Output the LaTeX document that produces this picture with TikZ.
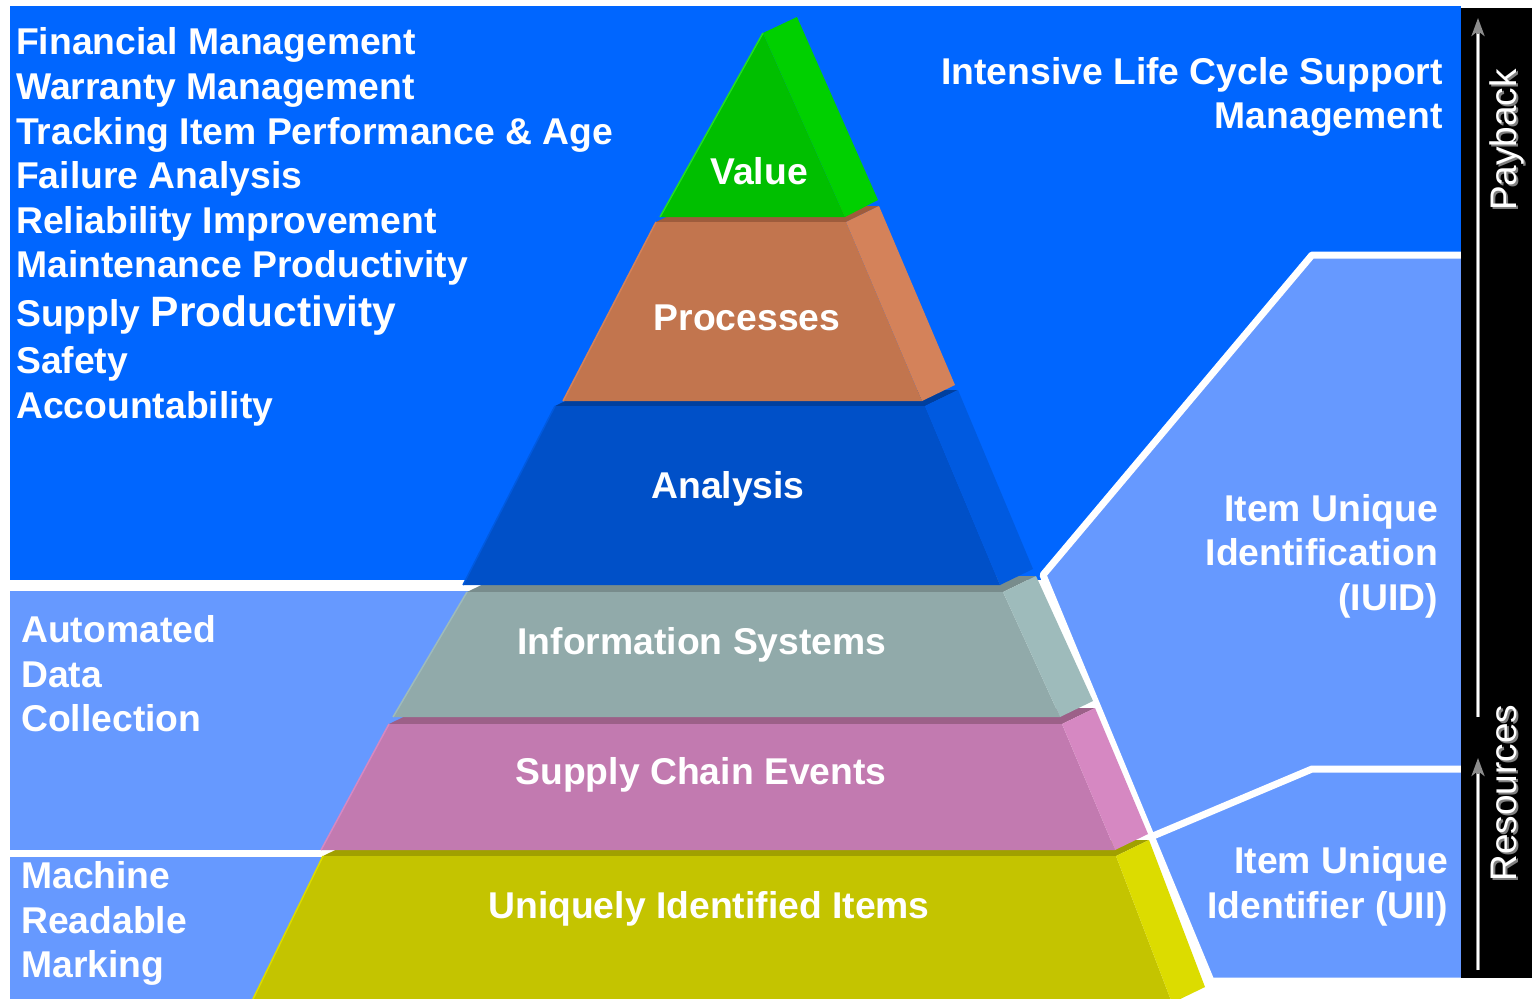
\documentclass[tikz,border=0pt]{standalone}
\usepackage{fontspec}
\setmainfont{Liberation Sans}
\usetikzlibrary{arrows.meta}
\definecolor{dblue}{HTML}{0066FF}
\definecolor{lblue}{HTML}{6699FF}
\definecolor{valFront}{HTML}{00BF00}
\definecolor{valSide}{HTML}{00D000}
\definecolor{valEdge}{HTML}{22DD22}
\definecolor{proFront}{HTML}{C2754E}
\definecolor{proSide}{HTML}{D4825A}
\definecolor{proTop}{HTML}{9E5C3C}
\definecolor{anaFront}{HTML}{0050C8}
\definecolor{anaSide}{HTML}{005AE0}
\definecolor{anaTop}{HTML}{003F9E}
\definecolor{infFront}{HTML}{91AAAA}
\definecolor{infSide}{HTML}{9EBBBB}
\definecolor{infTop}{HTML}{788C8C}
\definecolor{supFront}{HTML}{C27AB0}
\definecolor{supSide}{HTML}{D688C2}
\definecolor{supTop}{HTML}{9C6088}
\definecolor{uniFront}{HTML}{C4C400}
\definecolor{uniSide}{HTML}{DCDC00}
\definecolor{uniTop}{HTML}{A0A000}
\definecolor{arrowgray}{HTML}{8C8C8C}
\begin{document}
\begin{tikzpicture}[x=1pt,y=-1pt,
  lbl/.style={text=white,font=\fontsize{37.3}{44}\selectfont\bfseries,inner sep=0pt},
  rot/.style={font=\fontsize{37}{44}\selectfont,inner sep=0pt,rotate=90,anchor=base},
  edgeline/.style={line width=1.5},
  barrow/.style={draw=arrowgray, line width=3.5, -{Stealth[length=18pt,width=13pt,inset=5pt]}}]
\useasboundingbox (0,0) rectangle (1532,999);
\fill[white] (0,0) rectangle (1532,999);
% background regions
\fill[dblue] (10,6) rectangle (1461,580);
\fill[lblue] (10,591) rectangle (700,850);
\fill[lblue] (10,857) rectangle (700,999);
\filldraw[fill=lblue, draw=white, line width=7, line join=round]
  (1312,255) -- (1470,255) -- (1470,981) -- (1211,981) -- (1043,575) -- cycle;
\draw[white, line width=7, line join=round] (1153,836) -- (1312,769) -- (1470,769);
\fill[black] (1461,8) rectangle (1532,978);

% pyramid: bottom layer first
% Uniquely Identified Items
\fill[uniTop] (323,856) -- (1116,856) -- (1149,840) -- (356,840) -- cycle;
\fill[uniFront] (323,856) -- (1116,856) -- (1172,1003) -- (251,1003) -- cycle;
\fill[uniSide] (1116,856) -- (1149,840) -- (1205,987) -- (1172,1003) -- cycle;
\draw[uniSide, edgeline] (323,856) -- (251,1003);
% Supply Chain Events
\fill[supTop] (389,724) -- (1062,724) -- (1095,708) -- (422,708) -- cycle;
\fill[supFront] (389,724) -- (1062,724) -- (1115,850) -- (321,850) -- cycle;
\fill[supSide] (1062,724) -- (1095,708) -- (1148,834) -- (1115,850) -- cycle;
\draw[supSide, edgeline] (389,724) -- (321,850);
% Information Systems
\fill[infTop] (467,592) -- (1003,592) -- (1036,576) -- (500,576) -- cycle;
\fill[infFront] (467,592) -- (1003,592) -- (1060,717) -- (393,717) -- cycle;
\fill[infSide] (1003,592) -- (1036,576) -- (1093,701) -- (1060,717) -- cycle;
\draw[infSide, edgeline] (467,592) -- (393,717);
% Analysis
\fill[anaTop] (555,406) -- (925,406) -- (958,390) -- (588,390) -- cycle;
\fill[anaFront] (555,406) -- (925,406) -- (1000,585) -- (463,585) -- cycle;
\fill[anaSide] (925,406) -- (958,390) -- (1033,569) -- (1000,585) -- cycle;
\draw[anaSide, edgeline] (555,406) -- (463,585);
% Processes
\fill[proTop] (656,222) -- (846,222) -- (879,206) -- (689,206) -- cycle;
\fill[proFront] (656,222) -- (846,222) -- (922,401) -- (563,401) -- cycle;
\fill[proSide] (846,222) -- (879,206) -- (955,385) -- (922,401) -- cycle;
\draw[proSide, edgeline] (656,222) -- (563,401);
% Value
\fill[valFront] (763,33) -- (845,217) -- (660,217) -- cycle;
\fill[valSide] (763,33) -- (797,17) -- (878,200) -- (845,217) -- cycle;
\draw[valEdge, edgeline] (763,33) -- (660,217);

% pyramid labels
\node[lbl, anchor=base] (lval) at (759,184) {Value};
\node[lbl, anchor=base] (lpro) at (747,330) {Processes};
\node[lbl, anchor=base] (lana) at (728,498) {Analysis};
\node[lbl, anchor=base] (linf) at (702,654) {Information Systems};
\node[lbl, anchor=base] (lsup) at (701,784) {Supply Chain Events};
\node[lbl, anchor=base] (luni) at (709,918) {Uniquely Identified Items};

% left list
\node[lbl, anchor=base west] (t1) at (16,54) {Financial Management};
\node[lbl, anchor=base west] (t2) at (16,99) {Warranty Management};
\node[lbl, anchor=base west] (t3) at (16,144) {Tracking Item Performance \& Age};
\node[lbl, anchor=base west] (t4) at (16,188) {Failure Analysis};
\node[lbl, anchor=base west] (t5) at (16,233) {Reliability Improvement};
\node[lbl, anchor=base west] (t6) at (16,277) {Maintenance Productivity};
\node[lbl, anchor=base west] (t7) at (16,326) {Supply {\fontsize{42.5}{50}\selectfont Productivity}};
\node[lbl, anchor=base west] (t8) at (16,373) {Safety};
\node[lbl, anchor=base west] (t9) at (16,418) {Accountability};

% left panels
\node[lbl, anchor=base west] (a1) at (21,642) {Automated};
\node[lbl, anchor=base west] (a2) at (21,687) {Data};
\node[lbl, anchor=base west] (a3) at (21,731) {Collection};
\node[lbl, anchor=base west] (m1) at (21,888) {Machine};
\node[lbl, anchor=base west] (m2) at (21,933) {Readable};
\node[lbl, anchor=base west] (m3) at (21,977) {Marking};

% right texts
\node[lbl, anchor=base east] (r1) at (1443,84) {Intensive Life Cycle Support};
\node[lbl, anchor=base east] (r2) at (1443,128) {Management};
\node[lbl, anchor=base east] (i1) at (1438,521) {Item Unique};
\node[lbl, anchor=base east] (i2) at (1438,565) {Identification};
\node[lbl, anchor=base east] (i3) at (1438,610) {(IUID)};
\node[lbl, anchor=base east] (u1) at (1448,873) {Item Unique};
\node[lbl, anchor=base east] (u2) at (1448,918) {Identifier (UII)};

% black bar arrows
\coordinate (pbS) at (1478,717);
\coordinate (pbE) at (1478,18);
\coordinate (rsS) at (1478,970);
\coordinate (rsE) at (1478,758);
\draw[barrow] (pbS) -- (pbE);
\draw[white, line width=1.2] (pbS) -- ([yshift=-16]pbE);
\draw[barrow] (rsS) -- (rsE);
\draw[white, line width=1.2] (rsS) -- ([yshift=-16]rsE);

% rotated labels with shadow
\node[rot, text=gray] (pbsh) at (1518,142) {Payback};
\node[rot, text=white] (pb) at (1516,140) {Payback};
\node[rot, text=gray] (rssh) at (1518,795) {Resources};
\node[rot, text=white] (rs) at (1516,793) {Resources};
\end{tikzpicture}
\end{document}
